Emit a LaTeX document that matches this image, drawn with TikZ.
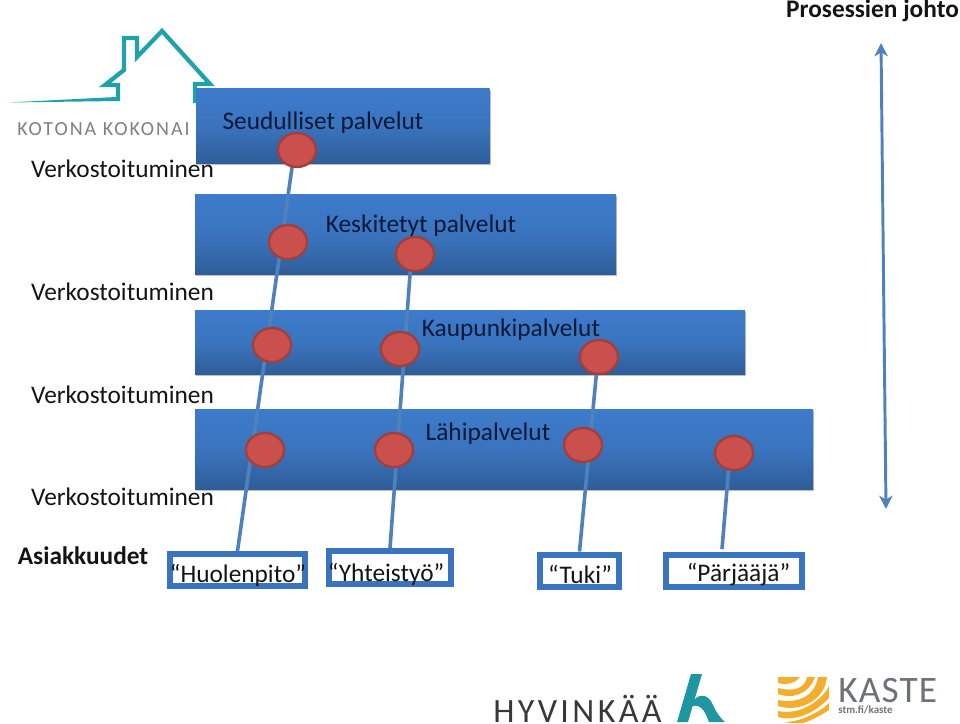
\documentclass[tikz,border=0pt]{standalone}
\usepackage{fontspec}
\setmainfont{Carlito}
\usetikzlibrary{shadows,arrows.meta,shapes.geometric}
\definecolor{bandtop}{HTML}{3D7BCB}
\definecolor{bandmid}{HTML}{3A74BE}
\definecolor{bandbot}{HTML}{2F5D99}
\definecolor{linkblue}{HTML}{4F81BD}
\definecolor{framec}{HTML}{3A74BE}
\definecolor{dotred}{HTML}{C9504C}
\definecolor{dotedge}{HTML}{A33F3B}
\definecolor{teal}{HTML}{1FA3A8}
\definecolor{hteal}{HTML}{1E97A3}
\definecolor{kgrey}{HTML}{6E7278}
\definecolor{korange}{HTML}{F4AE2E}
\definecolor{navytext}{HTML}{0B1838}
\pgfdeclarelayer{bandlayer}
\pgfdeclarelayer{linklayer}
\pgfsetlayers{bandlayer,linklayer,main}
\tikzset{
  x=0.75pt,y=-0.75pt,
  band/.style={inner sep=0,outer sep=0,minimum width=#1,anchor=north west,top color=bandtop,bottom color=bandbot,middle color=bandmid,
    drop shadow={shadow xshift=1pt,shadow yshift=-1.2pt,fill=black,opacity=.25}},
  dot/.style={ellipse,draw=dotedge,line width=1.7pt,fill=dotred,minimum width=28.5pt,minimum height=25.5pt,inner sep=0},
  link/.style={draw=linkblue,line width=2.7pt},
  careframe/.style={draw=framec,line width=4.5pt,fill=white,inner sep=0,
    drop shadow={shadow xshift=1pt,shadow yshift=-1.2pt,fill=black,opacity=.25}},
  txt/.style={font=\fontsize{19pt}{21pt}\selectfont,inner sep=0,text=black!92},
  bandtxt/.style={txt,text=navytext},
}
\begin{document}
\begin{tikzpicture}
\useasboundingbox (0,0) rectangle (960,724);
% bands
\begin{pgfonlayer}{bandlayer}
% house logo
\fill[teal] (8,102.5) -- (116,97) -- (120,101) -- cycle;
\draw[teal,line width=3.2pt,line join=miter] (118,101) -- (118,85) -- (105,85) -- (124,70) -- (124,38) -- (137,38) -- (137,57) -- (162,31) -- (210,84) -- (195,84) -- (195,103);
\node[font=\fontsize{15pt}{17pt}\selectfont,text=black!50,anchor=west,inner sep=0] (kk) at (17,129) {\addfontfeatures{LetterSpace=10}KOTONA KOKONAI};
\node[band=293.5*0.75pt,minimum height=56pt] (b1) at (196,89) {};
\node[band=421*0.75pt,minimum height=60pt] (b2) at (195,194) {};
\node[band=550*0.75pt,minimum height=48pt] (b3) at (195,310) {};
\node[band=618*0.75pt,minimum height=60pt] (b4) at (195,409) {};
\end{pgfonlayer}
% texts on bands
\node[bandtxt] (t1) at (323,122.5) {Seudulliset palvelut};
\node[bandtxt] (t2) at (421,225.5) {Keskitetyt palvelut};
\node[bandtxt] (t3) at (511,329.5) {Kaupunkipalvelut};
\node[bandtxt] (t4) at (488,433.5) {Lähipalvelut};
% side labels
\node[txt] (v1) at (122.5,169) {Verkostoituminen};
\node[txt] (v2) at (122.5,292) {Verkostoituminen};
\node[txt] (v3) at (122.5,394.5) {Verkostoituminen};
\node[txt] (v4) at (122.5,497) {Verkostoituminen};
\node[txt,font=\fontsize{19pt}{21pt}\bfseries\selectfont] (as) at (83,556) {Asiakkuudet};
\node[txt,font=\fontsize{19pt}{21pt}\bfseries\selectfont] (pj) at (872.5,11) {Prosessien johto};
% customer boxes
\node[careframe,minimum width=101pt,minimum height=24pt] (c1) at (237.5,570) {};
\node[careframe,minimum width=91.5pt,minimum height=24.5pt] (c2) at (390,567.5) {};
\node[careframe,minimum width=59pt,minimum height=24pt] (c3) at (579.5,570.5) {};
\node[careframe,minimum width=102pt,minimum height=24pt] (c4) at (734,570.5) {};
\coordinate (c4top) at (722,549);
\node[txt] (l1) at (238,575) {“Huolenpito”};
\node[txt] (l2) at (386,574) {“Yhteistyö”};
\node[txt] (l3) at (580,574) {“Tuki”};
\node[txt] (l4) at (738.5,575) {“Pärjääjä”};
% dots
\node[dot] (d11) at (297,150) {};
\node[dot] (d12) at (288,242) {};
\node[dot] (d13) at (272,345) {};
\node[dot] (d14) at (265,450) {};
\node[dot] (d21) at (415,254) {};
\node[dot] (d22) at (400,349) {};
\node[dot] (d23) at (394,450) {};
\node[dot] (d31) at (599,357) {};
\node[dot] (d32) at (583,445) {};
\node[dot] (d41) at (734,453) {};
% link start points, inside the top dots
\coordinate (s1) at (294.5,150);
\coordinate (s2) at (411.5,254);
\coordinate (s3) at (598,357);
\coordinate (s4) at (730,453);
% links run behind the dots
\begin{pgfonlayer}{linklayer}
\draw[link] (s1) -- (c1.north);
\draw[link] (s2) -- (c2.north);
\draw[link] (s3) -- (c3.north);
\draw[link] (s4) -- (c4top);
\end{pgfonlayer}
% process arrow
\coordinate (au) at (881,43);
\coordinate (ad) at (886,509);
\draw[linkblue,line width=2.2pt,{Stealth[length=10pt,width=10pt,inset=3pt]}-{Stealth[length=10pt,width=10pt,inset=3pt]}] (au) -- (ad);
% Hyvinkaa logo
\node[anchor=base west,inner sep=0,font=\fontsize{25.5pt}{27pt}\selectfont,text=black!78] (hy) at (493,722) {\addfontfeatures{LetterSpace=10}HYVINKÄÄ};
\fill[hteal] (691,674) -- (702,674) -- (688,722) -- (677,722) -- cycle;
\fill[hteal] (694,700) .. controls (700,693) and (708,695) .. (712,703) .. controls (716,712) and (720,718) .. (725,722) -- (709,722) .. controls (705,712) and (702,704) .. (692,706) -- cycle;
% Kaste logo
\fill[korange] (778,677) -- (800,677) .. controls (795,684) and (785,685) .. (778,683) -- cycle;
\fill[korange] (778,688) .. controls (795,692) and (805,688) .. (807,677) -- (815,677) .. controls (810,692) and (795,700) .. (778,694) -- cycle;
\fill[korange] (778,700) .. controls (800,704) and (815,695) .. (818,677) -- (827,677) .. controls (825,700) and (800,713) .. (778,706) -- cycle;
\fill[korange] (778,711) .. controls (800,716) and (822,700) .. (829,686) -- (829,698) .. controls (815,713) and (795,722) .. (778,717) -- cycle;
\fill[korange] (785,722) .. controls (800,722) and (820,712) .. (829,703) -- (829,710) .. controls (820,716) and (812,720) .. (803,723) -- (790,723) -- cycle;
\node[anchor=base west,inner sep=0,font=\fontsize{28pt}{30pt}\selectfont,text=kgrey] (ks) at (838,702) {\addfontfeatures{LetterSpace=3}KASTE};
\node[anchor=base west,inner sep=0,font=\fontsize{8.2pt}{10pt}\bfseries\selectfont,text=kgrey] (sf) at (838,713) {stm.fi/kaste};
\end{tikzpicture}
\end{document}
